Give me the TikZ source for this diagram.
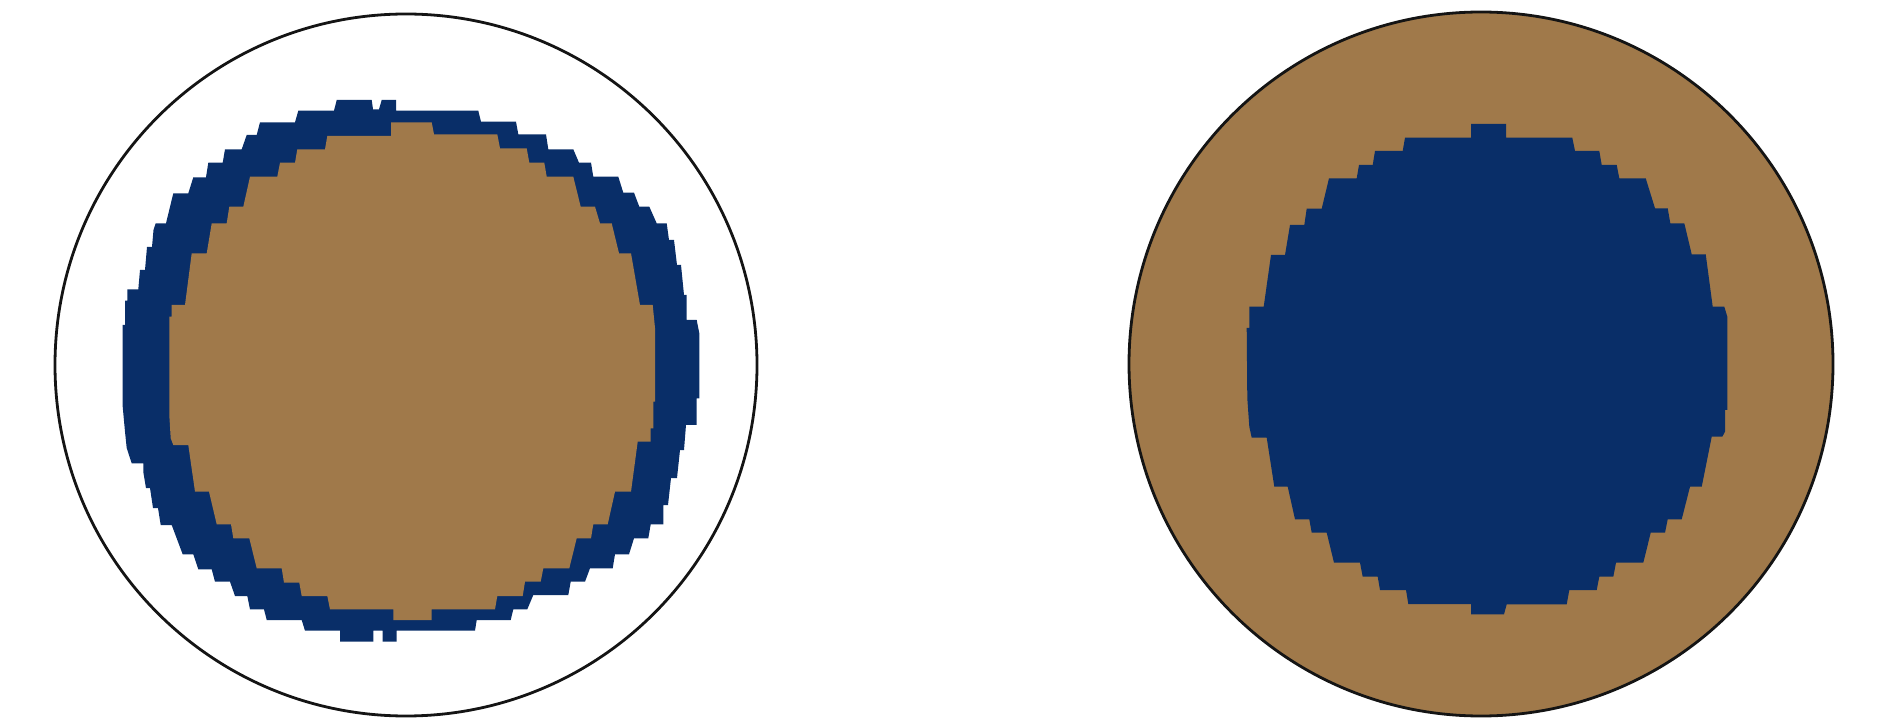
\documentclass[tikz,border=0pt]{standalone}
\usepackage{xcolor}
\usepackage{tikz}
\definecolor{marine}{RGB}{9,46,104}
\definecolor{ocre}{RGB}{160,121,74}
\definecolor{trait}{RGB}{20,20,20}

\begin{document}
\begin{tikzpicture}[x=0.5pt, y=-0.5pt,
  bord/.style={draw=trait, line width=1.4pt},
  tache/.style={fill=#1, draw=none}]
\useasboundingbox (0,0) rectangle (1884,721);

% ── gauche : disque vide, couronne bleue, coeur ocre ──
\draw[bord] (406,365) circle[radius=351];
\path[tache=marine] (336.7,100) -- (371.7,100) -- (373,109.3) -- (379,109.3) -- (381.7,100) -- (396,100)
  -- (396,110.7) -- (478.3,110.7) -- (481,121.7) -- (516,121.7) -- (518.3,134.3) -- (546,134.3)
  -- (548.3,149.3) -- (573.3,149.3) -- (579,162.7) -- (591,162.7) -- (593.3,176.7) -- (618.3,176.7)
  -- (623.3,192.7) -- (634,192.7) -- (639.3,206.7) -- (649.3,206.7) -- (656.7,223.3) -- (666.7,223.3)
  -- (669,240) -- (674,240) -- (677,265) -- (681,265) -- (684,295) -- (686.7,295)
  -- (686.7,320) -- (696.7,320) -- (699.3,333.3) -- (699.3,398.3) -- (696.7,398.3) -- (696.7,425)
  -- (686,425) -- (684,450) -- (680,450) -- (677,478) -- (671,478) -- (668,505) -- (663.3,505)
  -- (663.3,524.3) -- (650.7,524.3) -- (648.3,538.3) -- (634,538.3) -- (629,554.3)
  -- (615,554.3) -- (612.7,568.3) -- (590,568.3) -- (585,581.7) -- (570.7,581.7) -- (568.3,595)
  -- (533.3,595) -- (527.3,609.3) -- (513.3,609.3) -- (510.7,620) -- (476.7,620) -- (475,630.7)
  -- (396.7,630.7) -- (396.7,641.7) -- (382.7,641.7) -- (382.7,630.7) -- (373.3,630.7) -- (373.3,641.7)
  -- (340,641.7) -- (340,630.7) -- (305,630.7) -- (301.7,620) -- (266.7,620) -- (264,609.3)
  -- (250,609.3) -- (247.3,596) -- (235,596) -- (230,581.7) -- (215,581.7) -- (211.7,569.3)
  -- (198.3,569.3) -- (193.3,554.3) -- (182.7,554.3) -- (171.7,525) -- (160.7,525)
  -- (158,508) -- (153,508) -- (150,488) -- (146,488) -- (143.3,472) -- (143.3,463.3)
  -- (131.7,463.3) -- (126.7,448) -- (125,431.7) -- (122.7,406.7) -- (122.7,325) -- (125,325)
  -- (125,300.7) -- (127.3,300.7) -- (127.3,289.3) -- (138.3,289.3) -- (140,270) -- (145,270)
  -- (147,247) -- (152,247) -- (153.5,230) -- (155.7,223.3) -- (166,223.3)
  -- (173.3,193.3) -- (188.3,193.3) -- (193.3,177.3) -- (206,177.3) -- (208.3,162.7) -- (222.7,162.7)
  -- (225,149.3) -- (241.7,149.3) -- (246.7,135) -- (256.7,135) -- (260,122.3) -- (295,122.3)
  -- (298.3,110.7) -- (334,110.7) -- cycle;
\path[tache=ocre] (391,122.3) -- (431.7,122.3) -- (434,134.3) -- (497.3,134.3) -- (500,148.3) -- (526.7,148.3)
  -- (529.3,162.7) -- (544.3,162.7) -- (546.7,176.7) -- (573.3,176.7) -- (580.7,206.7) -- (595,206.7)
  -- (600,223.3) -- (611.7,223.3) -- (619,253.3) -- (631,253.3) -- (640,305) -- (652.7,305)
  -- (655,328) -- (655,401.7) -- (653.3,401.7) -- (653.3,428.3) -- (650.7,428.3) -- (650.7,441.7)
  -- (637.7,441.7) -- (631,491.7) -- (615,491.7) -- (607.7,524.3) -- (593.3,524.3) -- (591,538.3)
  -- (576.7,538.3) -- (569.3,568.3) -- (543.3,568.3) -- (540.7,581.7) -- (525,581.7) -- (522.7,596)
  -- (497.3,596) -- (495,609.3) -- (431.7,609.3) -- (431.7,620) -- (393.3,620) -- (393.3,609.3)
  -- (330,609.3) -- (327.3,596) -- (301.7,596) -- (299.3,582.7) -- (284,582.7) -- (281.7,568.3)
  -- (256.7,568.3) -- (249.3,538.3) -- (233.3,538.3) -- (231,524.3) -- (216.7,524.3) -- (209,491.7)
  -- (195,491.7) -- (188.3,445) -- (173.3,445) -- (170.7,438.3) -- (169.3,415) -- (169.3,316.7)
  -- (171.7,316.7) -- (171.7,305) -- (185,305) -- (191.7,253.3) -- (206.7,253.3) -- (211.7,223.3)
  -- (226.7,223.3) -- (229.3,206.7) -- (243.3,206.7) -- (250,176.7) -- (277.3,176.7) -- (280,162.7)
  -- (295,162.7) -- (297.3,149.3) -- (325,149.3) -- (327.3,136) -- (391,136) -- cycle;

% ── droite : disque ocre, coeur bleu ──
\draw[bord, fill=ocre] (1481,364) circle[radius=352];
\path[tache=marine] (1471,124) -- (1506,124) -- (1506,137.7) -- (1572.3,137.7) -- (1575,151) -- (1599.3,151)
  -- (1601.7,165) -- (1616.7,165) -- (1619.3,178.3) -- (1645.7,178.3) -- (1655,208.3) -- (1667.7,208.3)
  -- (1670.3,223.3) -- (1684.3,223.3) -- (1691.7,254.3) -- (1705.7,254.3) -- (1712.7,306.7) -- (1724.3,306.7)
  -- (1727.3,316.7) -- (1727.3,410) -- (1725,410) -- (1725,431.7) -- (1722.3,436.7) -- (1711.7,436.7)
  -- (1701.7,486.7) -- (1690,486.7) -- (1681.7,519.3) -- (1667.7,519.3) -- (1665,532.7) -- (1650.7,532.7)
  -- (1643.3,562.7) -- (1616,562.7) -- (1613.3,576.7) -- (1599.3,576.7) -- (1596.7,590) -- (1569.3,590)
  -- (1566.7,604.3) -- (1506.7,604.3) -- (1504,614.3) -- (1471,614.3) -- (1471,604) -- (1408.3,604)
  -- (1406,590) -- (1380,590) -- (1377.7,576.7) -- (1362.7,576.7) -- (1360,562.7) -- (1334,562.7)
  -- (1326.7,532.7) -- (1311.7,532.7) -- (1309.3,519.3) -- (1295,519.3) -- (1287.7,486.7) -- (1274.3,486.7)
  -- (1266.7,437.7) -- (1251.7,437.7) -- (1249.3,426.7) -- (1247.3,398.3) -- (1246.7,328) -- (1249.3,328)
  -- (1249.3,306.7) -- (1263.7,306.7) -- (1271,255) -- (1285,255) -- (1290,225) -- (1304.3,225)
  -- (1306.7,208.7) -- (1321.7,208.7) -- (1329,178.3) -- (1356.7,178.3) -- (1359,165) -- (1372.7,165)
  -- (1375,151) -- (1402.7,151) -- (1405,137.7) -- (1471,137.7) -- cycle;

\end{tikzpicture}
\end{document}
